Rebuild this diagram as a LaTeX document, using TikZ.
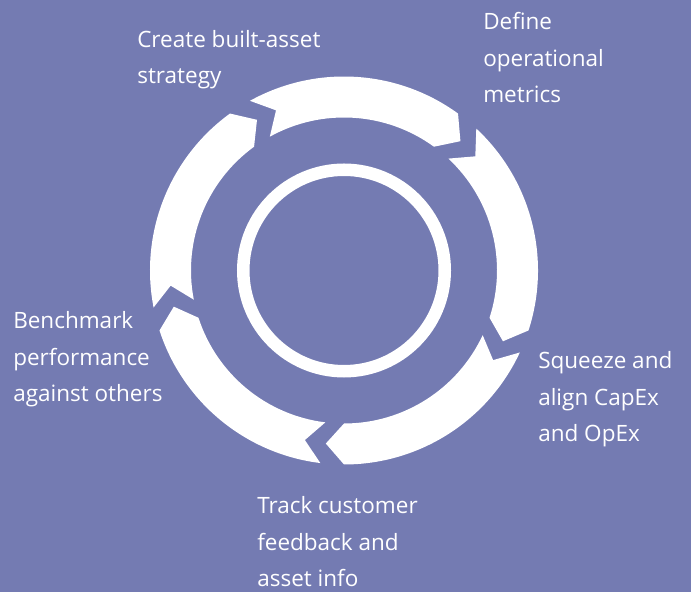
\documentclass[tikz,border=0pt]{standalone}
\usepackage{fontspec}
\setmainfont{Open Sans}
\usepackage{tikz}
\definecolor{cyclebg}{RGB}{116,123,178}

\begin{document}
\begin{tikzpicture}[x=0.025cm,y=0.025cm,
  steplabel/.style={anchor=base west,align=left,inner sep=0pt,text=white,
    font=\fontsize{16}{26.2}\selectfont}]
\useasboundingbox (0,0) rectangle (691,592);
\fill[cyclebg] (0,0) rectangle (691,592);
\coordinate (c) at (344,321.5);
  \fill[white] ([shift={(119:194)}]c) arc (119:54:194) -- ([shift={(48:174)}]c)
    -- ([shift={(54:153)}]c) arc (54:119:153) -- ([shift={(113:174)}]c) -- cycle;
  \fill[white] ([shift={(47:194)}]c) arc (47:-18:194) -- ([shift={(-24:174)}]c)
    -- ([shift={(-18:153)}]c) arc (-18:47:153) -- ([shift={(41:174)}]c) -- cycle;
  \fill[white] ([shift={(-25:194)}]c) arc (-25:-90:194) -- ([shift={(-96:174)}]c)
    -- ([shift={(-90:153)}]c) arc (-90:-25:153) -- ([shift={(-31:174)}]c) -- cycle;
  \fill[white] ([shift={(-97:194)}]c) arc (-97:-162:194) -- ([shift={(-168:174)}]c)
    -- ([shift={(-162:153)}]c) arc (-162:-97:153) -- ([shift={(-103:174)}]c) -- cycle;
  \fill[white] ([shift={(-169:194)}]c) arc (-169:-234:194) -- ([shift={(-240:174)}]c)
    -- ([shift={(-234:153)}]c) arc (-234:-169:153) -- ([shift={(-175:174)}]c) -- cycle;
\draw[white,line width=0.3125cm] (c) circle (100.75);
  \node[steplabel] (strategy) at (137,508) {Create built-asset\\strategy};
  \node[steplabel] (metrics) at (483,489) {Define\\operational\\metrics};
  \node[steplabel] (capex) at (538,150) {Squeeze and\\align CapEx\\and OpEx};
  \node[steplabel] (feedback) at (257,5) {Track customer\\feedback and\\asset info};
  \node[steplabel] (benchmark) at (13,190) {Benchmark\\performance\\against others};
\end{tikzpicture}
\end{document}
